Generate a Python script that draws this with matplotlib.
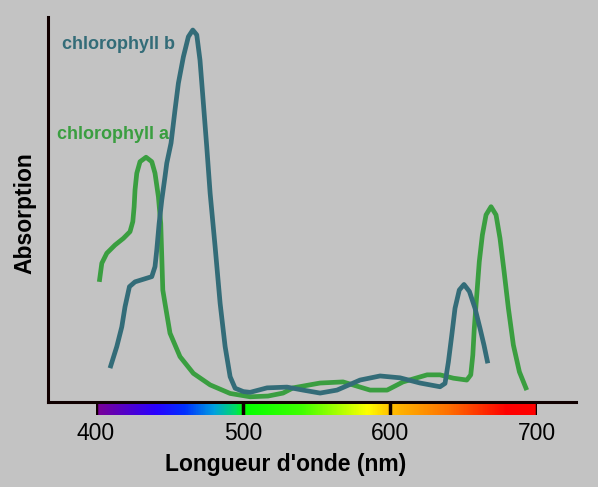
import numpy as np
import matplotlib.pyplot as plt
from matplotlib.colors import LinearSegmentedColormap

plt.rcParams['font.family'] = ['Liberation Sans', 'DejaVu Sans']

# absorption spectra (wavelength nm, relative absorption)
chl_a_nm = [402.2, 403.9, 407.3, 412.9, 418.6, 423.1, 425.0, 425.9, 426.5, 427.7,
            429.9, 434.0, 437.9, 440.1, 442.4, 444.0, 444.7, 445.4, 446.9, 450.3,
            457.1, 466.2, 477.6, 491.2, 504.8, 517.0, 527.2, 534.0, 552.4, 568.0,
            586.4, 598.0, 608.8, 625.2, 634.0, 643.1, 652.2, 654.9, 656.3, 657.3,
            659.0, 660.7, 662.8, 665.3, 668.7, 672.1, 674.8, 677.6, 680.5, 683.9,
            688.0, 693.0]
chl_a_abs = [32.3, 37.3, 40.0, 42.2, 44.0, 45.8, 48.5, 52.5, 57.0, 61.5,
             64.6, 65.8, 64.6, 61.5, 55.2, 48.0, 39.1, 30.1, 26.5, 18.5,
             12.2, 7.7, 4.6, 2.3, 1.4, 1.6, 2.4, 3.8, 5.1, 5.4,
             3.2, 3.2, 5.4, 7.3, 7.3, 6.4, 5.9, 7.3, 12.6, 19.8,
             28.8, 37.7, 44.9, 50.3, 52.5, 50.3, 44.0, 35.0, 25.2, 15.3,
             8.1, 3.2]

chl_b_nm = [409.5, 414.1, 417.5, 419.7, 422.7, 426.5, 432.2, 437.9, 440.1, 441.3,
            442.9, 444.7, 446.9, 448.1, 451.0, 453.7, 456.0, 459.4, 462.8, 465.8,
            468.5, 470.7, 473.0, 475.3, 477.6, 481.0, 484.4, 487.8, 491.2, 494.6,
            500.2, 504.8, 516.3, 529.9, 540.8, 552.4, 563.9, 579.6, 593.2, 606.8,
            620.4, 634.0, 637.4, 639.7, 642.0, 644.2, 647.1, 650.3, 654.0, 657.8,
            661.2, 663.9, 666.5]
chl_b_abs = [9.1, 14.9, 20.2, 25.6, 31.0, 32.3, 33.0, 33.7, 36.4, 40.9,
             48.0, 54.3, 60.6, 64.2, 69.6, 78.5, 85.7, 92.8, 98.2, 100.0,
             98.7, 91.9, 80.3, 68.6, 56.1, 41.7, 26.5, 14.9, 6.8, 3.7,
             2.8, 2.6, 3.8, 4.0, 3.2, 2.4, 3.2, 5.9, 7.0, 6.5,
             5.1, 4.1, 5.0, 10.8, 18.0, 25.2, 30.1, 31.6, 29.7, 25.2,
             19.8, 15.3, 10.4]

tick_nm = [400, 500, 600, 700]
spectrum_nm = [400, 440, 460, 480, 495, 500, 540, 585, 600, 640, 680, 700]
spectrum_col = ['#7a0096', '#2a00ff', '#0030ff', '#00a0e0', '#00e060', '#00ff00',
                '#40ff00', '#ffff00', '#ffc000', '#ff7000', '#ff0000', '#ff0000']

bg = '#c3c3c3'
green = '#3a9e40'
teal = '#336c78'

fig = plt.figure(figsize=(5.98, 4.87), dpi=100, facecolor=bg)
W, H = 598, 487

ax = fig.add_axes([48 / W, (H - 402) / H, (576 - 48) / W, (402 - 17) / H])
ax.set_facecolor(bg)
ax.plot(chl_a_nm, chl_a_abs, color=green, lw=3.4, solid_capstyle='butt', solid_joinstyle='round')
ax.plot(chl_b_nm, chl_b_abs, color=teal, lw=3.4, solid_capstyle='butt', solid_joinstyle='round')
ax.set_xlim(367.3, 726.5)
ax.set_ylim(0, 103.5)
for s in ['top', 'right']:
    ax.spines[s].set_visible(False)
for s in ['left', 'bottom']:
    ax.spines[s].set_linewidth(2.2)
    ax.spines[s].set_color('#100000')
ax.set_xticks([])
ax.set_yticks([])
ax.text(376.9, 96, 'chlorophyll b', color=teal, fontsize=13, fontweight='bold', ha='left', va='center')
ax.text(373.5, 71.8, 'chlorophyll a', color=green, fontsize=13, fontweight='bold', ha='left', va='center')
ax.set_ylabel('Absorption', fontsize=16.5, fontweight='bold')
ax.yaxis.set_label_coords(-0.021, 0.49)

# colour strip under the axis
cax = fig.add_axes([96 / W, (H - 415) / H, (537 - 96) / W, 11 / H])
pos = [(v - spectrum_nm[0]) / (spectrum_nm[-1] - spectrum_nm[0]) for v in spectrum_nm]
cmap = LinearSegmentedColormap.from_list('spec', list(zip(pos, spectrum_col)))
grad = np.linspace(400, 700, 600).reshape(1, -1)
cax.imshow(grad, cmap=cmap, extent=[400, 700, 0, 1], aspect='auto')
cax.set_xlim(400, 700)
cax.set_ylim(0, 1)
for v in tick_nm:
    cax.axvline(v, color='#100000', lw=2.5)
for s in cax.spines.values():
    s.set_visible(False)
cax.set_yticks([])
cax.set_xticks(tick_nm)
cax.set_xticklabels([str(v) for v in tick_nm], fontsize=16.5)
cax.tick_params(axis='x', length=0, pad=5)
cax.set_xlabel("Longueur d'onde (nm)", fontsize=16.5, fontweight='bold')
cax.xaxis.set_label_coords((285.5 - 96) / (537 - 96), -3.5)

fig.savefig('out.png', dpi=100, facecolor=bg)
